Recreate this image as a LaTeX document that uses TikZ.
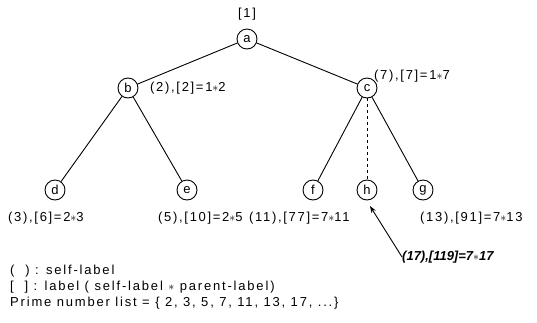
\documentclass[tikz,border=0pt]{standalone}
\usepackage{fontspec}
\setmainfont{Liberation Sans}
\newfontfamily\spaced[LetterSpace=13]{Liberation Sans}
\newfontfamily\legendfont[LetterSpace=14]{Liberation Sans}
\usetikzlibrary{arrows.meta}
\begin{document}
\begin{tikzpicture}[x=1pt,y=-1pt,
  vert/.style={circle,draw,line width=0.9pt,minimum size=20pt,inner sep=0pt,font=\fontsize{13}{15}\selectfont},
  edge/.style={line width=0.9pt},
  lbl/.style={font=\spaced\fontsize{13}{15}\selectfont,inner sep=0pt,anchor=west},
  leg/.style={font=\legendfont\fontsize{13}{15}\selectfont,inner sep=0pt,anchor=west}]
\useasboundingbox (0,0) rectangle (537,322);
\node[vert] (a) at (247,39) {a};
\node[vert] (b) at (128,88) {b};
\node[vert] (c) at (367,88) {c};
\node[vert] (d) at (55,190) {d};
\node[vert] (e) at (187,190) {e};
\node[vert] (f) at (313,190) {f};
\node[vert] (h) at (367,190) {h};
\node[vert] (g) at (423,190) {g};
\draw[edge] (a) -- (b);
\draw[edge] (a) -- (c);
\draw[edge] (b) -- (d);
\draw[edge] (b) -- (e);
\draw[edge] (c) -- (f);
\draw[edge] (c) -- (g);
\draw[edge,dashed,line width=0.6pt] (c) -- (h);
\node[font=\spaced\fontsize{13}{15}\selectfont,inner sep=0pt] (la) at (247,14) {[1]};
\node[lbl] (lb) at (150,88) {(2),[2]=1$*$2};
\node[lbl] (lc) at (374,76) {(7),[7]=1$*$7};
\node[lbl] (ld) at (8,218) {(3),[6]=2$*$3};
\node[lbl] (le) at (158,218) {(5),[10]=2$*$5};
\node[lbl] (lf) at (249,218) {(11),[77]=7$*$11};
\node[lbl] (lg) at (420,218) {(13),[91]=7$*$13};
\node[lbl,font=\fontsize{13}{15}\selectfont\bfseries\itshape] (lh) at (402,257) {(17),[119]=7$*$17};
\coordinate (hb) at (370,206);
\draw[edge,-{Stealth[length=7pt,width=5pt]}] (lh.west) -- (hb);
\node[leg] (k1) at (10,271) {(\ \ ) : self-label};
\node[leg] (k2) at (10,287) {[\ \ ] : label ( self-label $*$ parent-label)};
\node[leg] (k3) at (10,303) {Prime number list = \{ 2, 3, 5, 7, 11, 13, 17, ...\}};
\end{tikzpicture}
\end{document}
